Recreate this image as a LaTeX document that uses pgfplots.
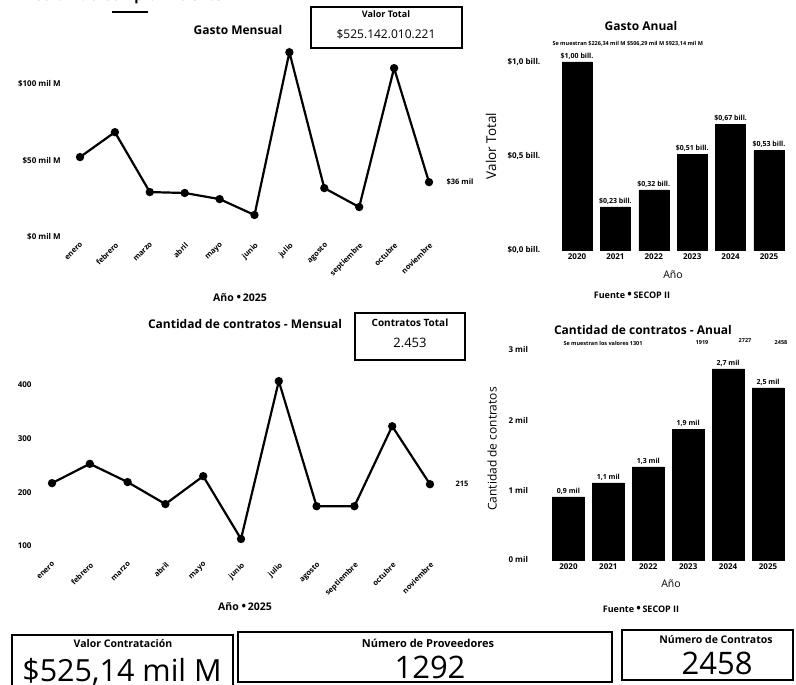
\documentclass[border=0pt]{standalone}
\usepackage{fontspec}
\setmainfont{Open Sans}
\usepackage{pgfplots}
\pgfplotsset{compat=1.18}
\newcommand\fs[1]{\fontsize{#1}{#1}\selectfont}
\newcommand\bigdot{{\fs{12}\textbullet}}
\pgfplotsset{dash/.style={scale only axis, anchor=south west, axis line style={draw=none}, major tick length=0pt, tick style={draw=none}, clip=false,
  tick label style={font=\bfseries\fs{8}}, /pgf/number format/assume math mode=true}}
\begin{document}
\begin{tikzpicture}[x=1pt,y=1pt]
\useasboundingbox (0pt,0pt) rectangle (796pt,685pt);
% header
\node[font=\bfseries\fs{14}, anchor=west] at (30pt,688pt) {Colombia Compra Eficiente};
\draw[line width=1.3pt] (112pt,673pt) -- (148pt,673pt);

% ---------- Gasto Mensual ----------
\begin{axis}[dash, at={(64.3pt,448pt)}, width=380.4pt, height=191pt,
  xmin=-0.45, xmax=10.45, ymin=0, ymax=125,
  xtick={0,...,10}, xticklabels={enero,febrero,marzo,abril,mayo,junio,julio,agosto,septiembre,octubre,noviembre},
  xticklabel style={rotate=45, anchor=north east, font=\bfseries\fs{7.5}},
  ytick={0,50,100}, yticklabels={\$0 mil M,\$50 mil M,\$100 mil M}]
\addplot[black, line width=2.2pt, mark=*, mark size=3pt] coordinates {(0,52.3) (1,68.6) (2,29.4) (3,28.8) (4,24.8) (5,14.4) (6,120.9) (7,32.0) (8,19.6) (9,110.5) (10,35.9)};
\end{axis}
\node[font=\bfseries\fs{12}] at (238pt,655pt) {Gasto Mensual};
\draw[line width=1.3pt] (311pt,678pt) rectangle (462pt,637pt);
\node[font=\bfseries\fs{9}] at (386pt,671pt) {Valor Total};
\node[font=\fs{12}] at (386pt,651pt) {\$525.142.010.221};
\node[font=\bfseries\fs{7.5}] at (460pt,503pt) {\$36 mil};
\node[font=\bfseries\fs{10.5}] at (240pt,387pt) {Año \bigdot\,2025};

% ---------- Gasto Anual ----------
\begin{axis}[dash, at={(557.8pt,435pt)}, width=230.4pt, height=206.8pt,
  xmin=-0.5, xmax=5.5, ymin=0, ymax=1.1, ybar, bar width=30pt,
  xtick={0,...,5}, xticklabels={2020,2021,2022,2023,2024,2025},
  ytick={0,0.5,1}, yticklabels={{\$0,0 bill.},{\$0,5 bill.},{\$1,0 bill.}},
  yticklabel style={xshift=-14pt},
  nodes near coords, point meta=explicit symbolic,
  every node near coord/.append style={font=\bfseries\fs{7}, yshift=-1pt}]
\addplot[fill=black, draw=black] coordinates {(0,1.00) [\$1,00 bill.] (1,0.23) [\$0,23 bill.] (2,0.32) [\$0,32 bill.] (3,0.51) [\$0,51 bill.] (4,0.67) [\$0,67 bill.] (5,0.53) [\$0,53 bill.]};
\end{axis}
\node[font=\bfseries\fs{12}] at (641pt,659pt) {Gasto Anual};
\node[font=\bfseries\fs{5.5}, anchor=west] at (549pt,641pt) {Se muestran \$226,34 mil M \$506,29 mil M \$923,14 mil M};
\node[font=\fs{13.5}, rotate=90] at (491pt,539pt) {Valor Total};
\node[font=\fs{10.5}] at (673pt,410pt) {Año};
\node[font=\bfseries\fs{9}] at (632pt,390pt) {Fuente \bigdot\,SECOP II};

% ---------- Contratos Mensual ----------
\begin{axis}[dash, at={(35pt,128.3pt)}, width=412pt, height=187.9pt,
  xmin=-0.45, xmax=10.45, ymin=80, ymax=430,
  xtick={0,...,10}, xticklabels={enero,febrero,marzo,abril,mayo,junio,julio,agosto,septiembre,octubre,noviembre},
  xticklabel style={rotate=45, anchor=north east, font=\bfseries\fs{7.5}},
  ytick={100,200,300,400}]
\addplot[black, line width=2.2pt, mark=*, mark size=3pt] coordinates {(0,217) (1,253) (2,219) (3,178) (4,230) (5,113) (6,407) (7,174) (8,174) (9,323) (10,215)};
\end{axis}
\node[font=\bfseries\fs{12}] at (245pt,361pt) {Cantidad de contratos - Mensual};
\draw[line width=1.3pt] (355pt,372pt) rectangle (465pt,325pt);
\node[font=\bfseries\fs{10}] at (410pt,362pt) {Contratos Total};
\node[font=\fs{13}] at (410pt,342pt) {2.453};
\node[font=\bfseries\fs{7.5}] at (462pt,201pt) {215};
\node[font=\bfseries\fs{10.5}] at (245pt,78pt) {Año \bigdot\,2025};

% ---------- Contratos Anual ----------
\begin{axis}[dash, at={(548.5pt,125pt)}, width=239.5pt, height=217pt,
  xmin=-0.5, xmax=5.5, ymin=0, ymax=3.1, ybar, bar width=32pt,
  xtick={0,...,5}, xticklabels={2020,2021,2022,2023,2024,2025},
  ytick={0,1,2,3}, yticklabels={0 mil,1 mil,2 mil,3 mil},
  yticklabel style={xshift=-17pt},
  nodes near coords, point meta=explicit symbolic,
  every node near coord/.append style={font=\bfseries\fs{7}, yshift=-1pt}]
\addplot[fill=black, draw=black] coordinates {(0,0.90) [{0,9 mil}] (1,1.10) [{1,1 mil}] (2,1.33) [{1,3 mil}] (3,1.87) [{1,9 mil}] (4,2.73) [{2,7 mil}] (5,2.458) [{2,5 mil}]};
\end{axis}
\node[font=\bfseries\fs{12}] at (643pt,355pt) {Cantidad de contratos - Anual};
\node[font=\bfseries\fs{5.5}] at (603pt,342pt) {Se muestran los valores 1301};
\node[font=\bfseries\fs{5.5}] at (702pt,342pt) {1919};
\node[font=\bfseries\fs{5.5}] at (745pt,344pt) {2727};
\node[font=\bfseries\fs{5.5}] at (781pt,342pt) {2458};
\node[font=\fs{12}, rotate=90] at (492pt,236pt) {Cantidad de contratos};
\node[font=\fs{10.5}] at (671pt,101pt) {Año};
\node[font=\bfseries\fs{9}] at (641pt,76pt) {Fuente \bigdot\,SECOP II};

% ---------- Cards ----------
\draw[line width=1.1pt] (12pt,50pt) rectangle (233pt,-3pt);
\node[font=\bfseries\fs{10.5}] at (123pt,41pt) {Valor Contratación};
\node[font=\fs{30.5}, anchor=base] at (122pt,3pt) {\$525,14 mil M};
\draw[line width=1.1pt] (238pt,53pt) rectangle (612pt,3pt);
\node[font=\bfseries\fs{11}] at (428pt,42pt) {Número de Proveedores};
\node[font=\fs{31}, anchor=base] at (430pt,6pt) {1292};
\draw[line width=1.1pt] (622pt,55pt) rectangle (793pt,5pt);
\node[font=\bfseries\fs{10.5}] at (716pt,45pt) {Número de Contratos};
\node[font=\fs{31}, anchor=base] at (717pt,10pt) {2458};
\end{tikzpicture}
\end{document}
